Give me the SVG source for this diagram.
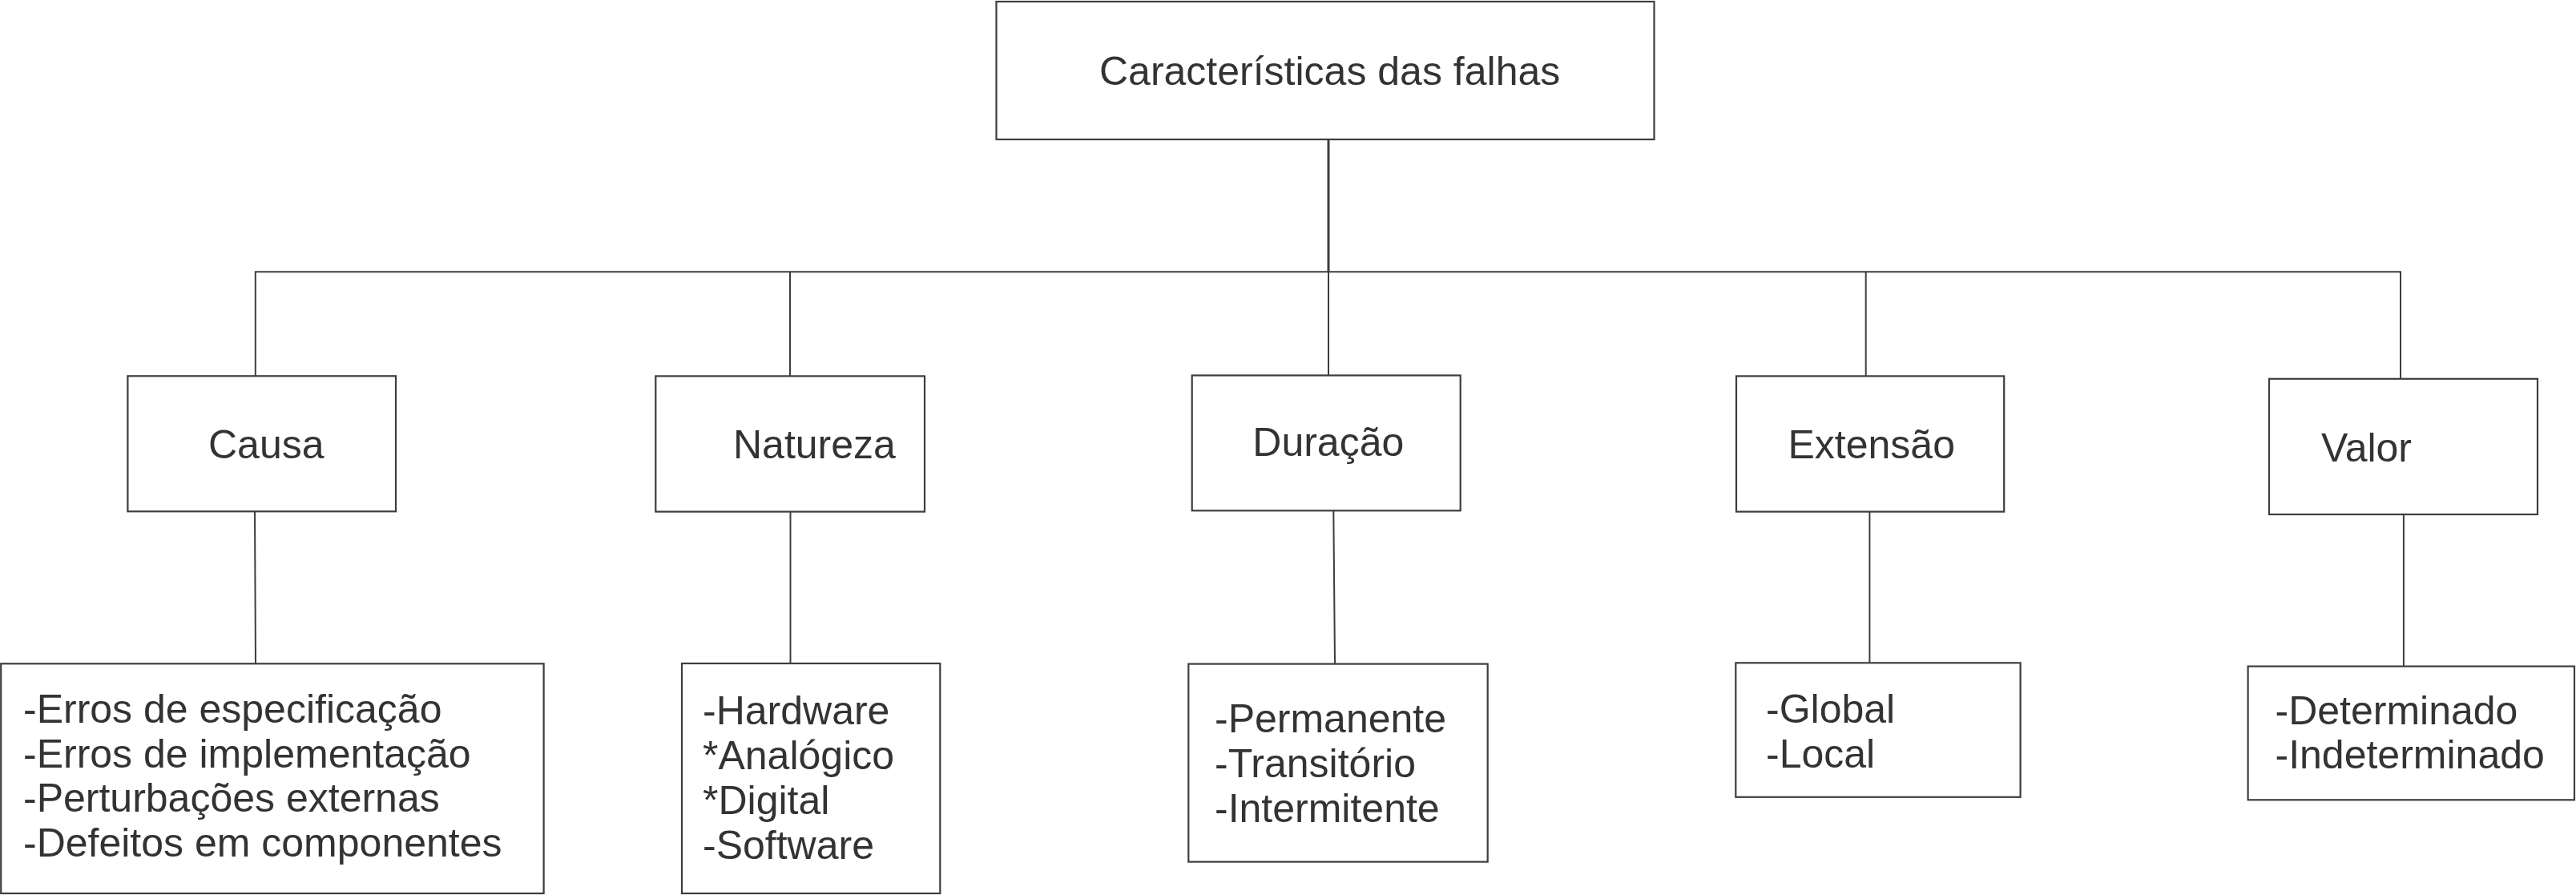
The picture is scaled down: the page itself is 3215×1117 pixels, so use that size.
<svg xmlns="http://www.w3.org/2000/svg" width="3215" height="1117" viewBox="0 0 3215 1117">
<style>
.box{fill:#fff;stroke:#3d3d3d;stroke-width:2.2}
.t{font-family:"Liberation Sans",Arial,sans-serif;font-size:50px;fill:#333}
.c{fill:none;stroke:#3d3d3d;stroke-width:2}
.main{fill:none;stroke:#3d3d3d;stroke-width:3}
</style>
<rect width="3215" height="1117" fill="#fff"/>
<g id="connectors">
<path class="main" d="M1658,174 V339"/>
<path class="c" d="M1658,339 V468.5"/>
<path class="c" d="M318.8,469.3 V339.3 H2996 V472.8"/>
<path class="c" d="M986,339.3 V469.4"/>
<path class="c" d="M2328.7,339.3 V469.4"/>
<path class="c" d="M318,638.3 L319,828.3"/>
<path class="c" d="M986.5,638.6 V828"/>
<path class="c" d="M1664.3,637.3 L1666,828.6"/>
<path class="c" d="M2333.4,638.6 V827.3"/>
<path class="c" d="M2999.9,642 V831.6"/>
</g>
<g id="root">
<rect class="box" x="1243.5" y="2" width="821" height="172"/>
<text class="t" x="1372" y="106">Características das falhas</text>
</g>
<g id="causa">
<rect class="box" x="159.4" y="469.3" width="334.6" height="169"/>
<text class="t" x="260" y="571.7">Causa</text>
</g>
<g id="natureza">
<rect class="box" x="818.3" y="469.4" width="335.7" height="169.2"/>
<text class="t" x="915" y="571.7">Natureza</text>
</g>
<g id="duracao">
<rect class="box" x="1487.7" y="468.5" width="335" height="168.8"/>
<text class="t" x="1563.3" y="568.7">Duração</text>
</g>
<g id="extensao">
<rect class="box" x="2167" y="469.4" width="334.2" height="169.2"/>
<text class="t" x="2231.5" y="571.7">Extensão</text>
</g>
<g id="valor">
<rect class="box" x="2832" y="472.8" width="335" height="169.2"/>
<text class="t" x="2897" y="576">Valor</text>
</g>
<g id="causa-list">
<rect class="box" x="1.2" y="828.3" width="677.4" height="286.7"/>
<text class="t" x="29" y="901.5">-Erros de especificação</text>
<text class="t" x="29" y="957.5">-Erros de implementação</text>
<text class="t" x="29" y="1013">-Perturbações externas</text>
<text class="t" x="29" y="1069">-Defeitos em componentes</text>
</g>
<g id="natureza-list">
<rect class="box" x="851" y="828" width="322.3" height="287"/>
<text class="t" x="877" y="904.2">-Hardware</text>
<text class="t" x="877" y="959.5">*Analógico</text>
<text class="t" x="877" y="1015.5">*Digital</text>
<text class="t" x="877" y="1071.7">-Software</text>
</g>
<g id="duracao-list">
<rect class="box" x="1483.3" y="828.6" width="373.4" height="247"/>
<text class="t" x="1516" y="914">-Permanente</text>
<text class="t" x="1516" y="970.2">-Transitório</text>
<text class="t" x="1516" y="1026">-Intermitente</text>
</g>
<g id="extensao-list">
<rect class="box" x="2166.3" y="827.3" width="355.3" height="167.5"/>
<text class="t" x="2204" y="901.7">-Global</text>
<text class="t" x="2204" y="958.3">-Local</text>
</g>
<g id="valor-list">
<rect class="box" x="2805.6" y="831.6" width="407.4" height="166.7"/>
<text class="t" x="2839.5" y="904">-Determinado</text>
<text class="t" x="2839.5" y="959.4">-Indeterminado</text>
</g>
</svg>
